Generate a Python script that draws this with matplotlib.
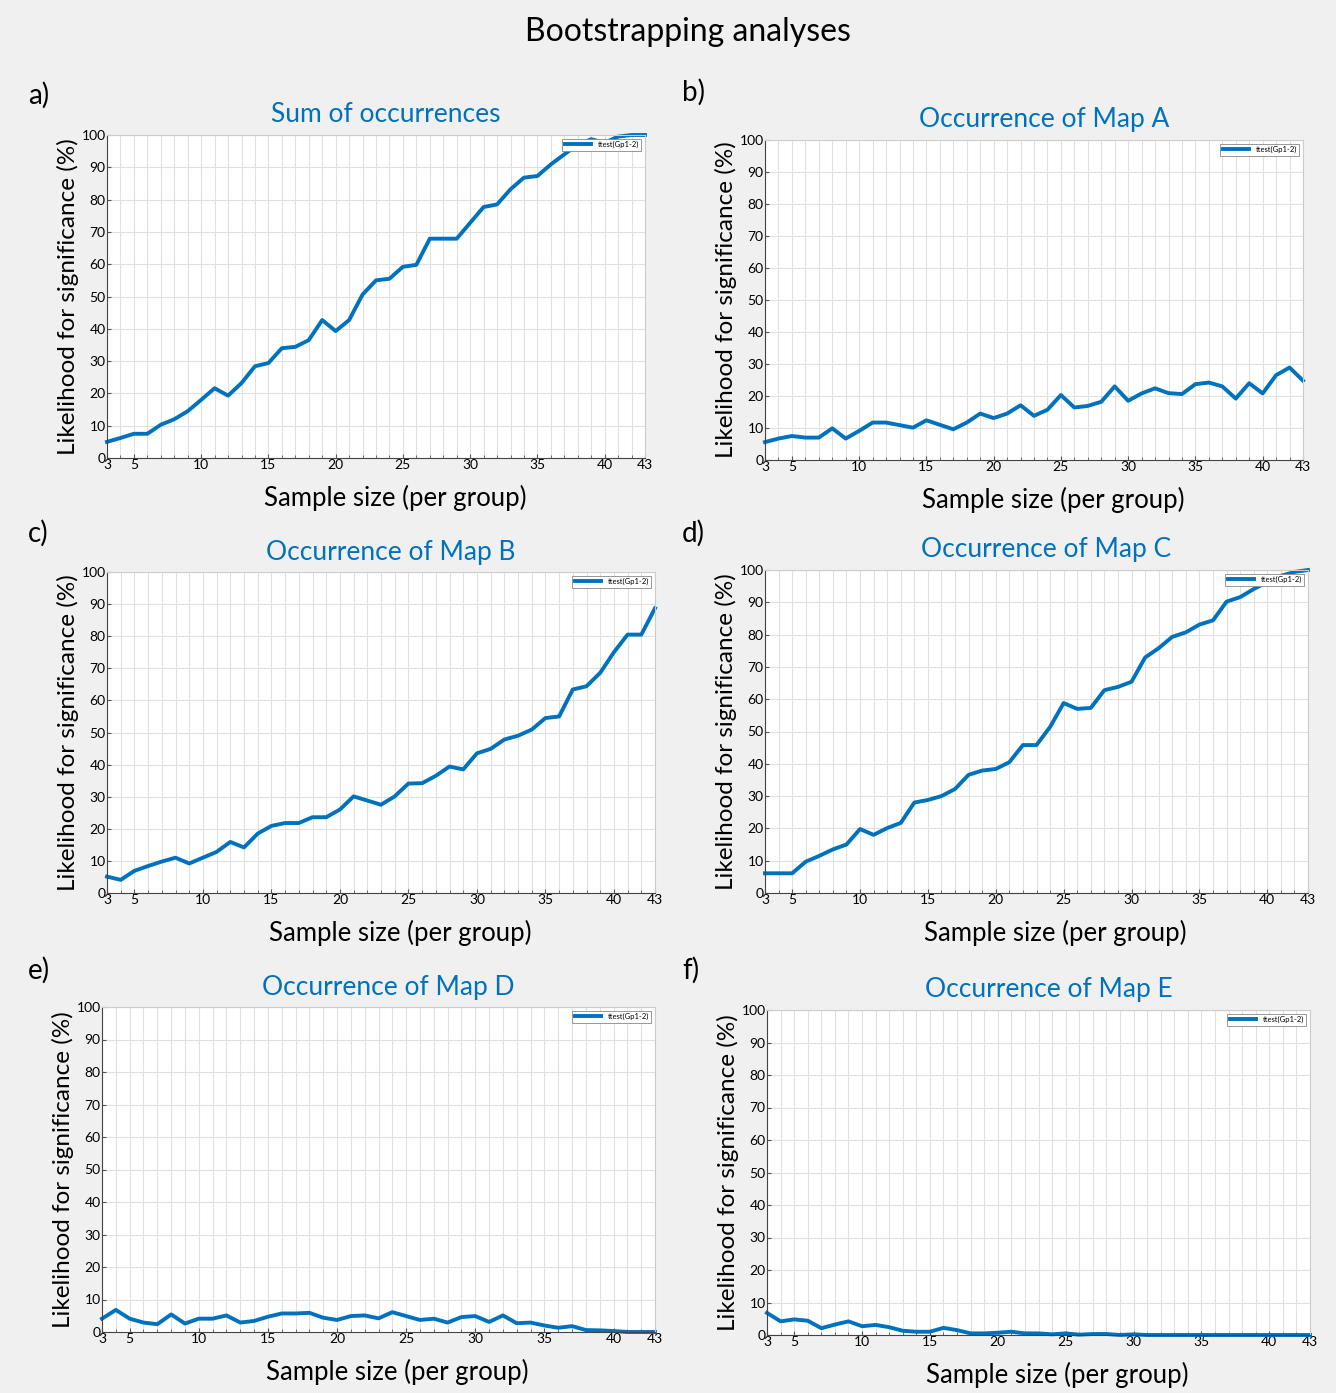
import matplotlib
matplotlib.use("Agg")
import matplotlib.pyplot as plt
import numpy as np

plt.rcParams['font.family'] = ['Lato', 'DejaVu Sans']

sample_size = list(range(3, 44))
x_ticks = [3, 5, 10, 15, 20, 25, 30, 35, 40, 43]
y_ticks = list(range(0, 101, 10))

sum_occ = [5, 6.2, 7.5, 7.5, 10.3, 12, 14.5, 18, 21.6, 19.3, 23.2, 28.4, 29.4, 34, 34.4,
           36.5, 42.7, 39.3, 42.7, 50.6, 55, 55.5, 59.2, 59.8, 67.9, 67.9, 67.9, 72.8,
           77.7, 78.5, 83.2, 86.8, 87.3, 90.9, 94, 97, 98.7, 97.6, 99.5, 100, 100]
map_a = [5.6, 6.7, 7.5, 7.0, 7.0, 9.9, 6.7, 9.1, 11.7, 11.7, 10.9, 10.1, 12.4, 11, 9.6,
         11.7, 14.5, 13.1, 14.5, 17.1, 13.8, 15.7, 20.3, 16.4, 16.9, 18.2, 23, 18.5,
         20.8, 22.4, 20.9, 20.6, 23.7, 24.2, 23, 19.2, 24, 20.8, 26.5, 28.9, 24.8]
map_b = [5.1, 4.1, 6.9, 8.4, 9.8, 11, 9.2, 11, 12.8, 15.9, 14.2, 18.5, 20.9, 21.8, 21.8,
         23.6, 23.6, 26, 30.1, 28.8, 27.5, 30.1, 34.1, 34.2, 36.5, 39.4, 38.5, 43.5,
         44.9, 47.8, 49, 50.9, 54.5, 55, 63.4, 64.4, 68.6, 75, 80.5, 80.5, 88.7]
map_c = [6.1, 6.1, 6.1, 9.7, 11.5, 13.5, 15, 19.8, 18, 20.1, 21.7, 28, 28.8, 30, 32.2,
         36.6, 37.9, 38.4, 40.5, 45.8, 45.8, 51.4, 58.8, 57, 57.3, 62.8, 63.8, 65.4,
         72.9, 75.8, 79.3, 80.7, 83.1, 84.4, 90.2, 91.6, 94.1, 96.3, 98.2, 99.4, 100]
map_d = [4.1, 6.8, 4.1, 2.9, 2.4, 5.4, 2.6, 4.1, 4.1, 5.1, 2.9, 3.4, 4.7, 5.7, 5.7,
         5.9, 4.4, 3.7, 4.9, 5.1, 4.2, 6.1, 4.9, 3.7, 4.1, 2.9, 4.6, 4.9, 3.1, 5.1,
         2.7, 2.9, 2.0, 1.3, 1.8, 0.6, 0.5, 0.3, 0, 0, 0]
map_e = [6.8, 4.2, 4.8, 4.4, 2.1, 3.2, 4.2, 2.7, 3.1, 2.4, 1.3, 1.0, 1.0, 2.2, 1.5,
         0.5, 0.5, 0.7, 1.0, 0.5, 0.5, 0.2, 0.5, 0.1, 0.3, 0.3, 0, 0.2, 0, 0, 0,
         0, 0, 0, 0, 0, 0, 0, 0, 0, 0]

titles = ['Sum of occurrences', 'Occurrence of Map A', 'Occurrence of Map B',
          'Occurrence of Map C', 'Occurrence of Map D', 'Occurrence of Map E']
letters = ['a)', 'b)', 'c)', 'd)', 'e)', 'f)']
series = [sum_occ, map_a, map_b, map_c, map_d, map_e]

W, H = 1336, 1393
# axes boxes in pixels: left, top, right, bottom
boxes = [(107, 135, 645, 458), (765, 140, 1303, 460),
         (107, 572, 655, 893), (765, 570, 1308, 893),
         (102, 1007, 655, 1332), (767, 1010, 1310, 1335)]
letter_pos = [(28, 95), (682, 92), (28, 533), (682, 533), (28, 970), (682, 970)]

blue = '#0072BD'
fig = plt.figure(figsize=(W / 100, H / 100), dpi=100, facecolor='#f0f0f0')
fig.text(0.515, 1 - 32 / H, 'Bootstrapping analyses', ha='center', va='center', fontsize=23)

for i in range(6):
    l, t, r, b = boxes[i]
    w, h = r - l, b - t
    ax = fig.add_axes([l / W, 1 - b / H, w / W, h / H])
    ax.set_facecolor('white')
    ax.plot(sample_size, series[i], color=blue, lw=2.8, label='ttest(Gp1-2)', clip_on=False)
    ax.set_xlim(3, 43)
    ax.set_ylim(0, 100)
    ax.set_xticks(x_ticks)
    ax.set_xticks(sample_size, minor=True)
    ax.set_yticks(y_ticks)
    ax.grid(True, which='major', color='#e0e0e0', lw=0.8)
    ax.grid(True, which='minor', axis='x', color='#e0e0e0', lw=0.8)
    ax.tick_params(which='both', direction='in', labelsize=10, pad=1, length=3,
                   color='#555555', top=False, right=False)
    ax.tick_params(which='minor', length=2)
    for s in ax.spines.values():
        s.set_color('#cccccc')
        s.set_linewidth(0.8)
    ax.spines['left'].set_color('#444444')
    ax.spines['bottom'].set_color('#444444')
    ax.text(0.5 + 10 / w, 1 + 20 / h, titles[i], color=blue, fontsize=19,
            ha='center', va='center', transform=ax.transAxes)
    ax.set_xlabel('Sample size (per group)', fontsize=18.5)
    ax.xaxis.set_label_coords(0.5 + 19 / w, -40 / h)
    ax.xaxis.label.set_va('center')
    ax.set_ylabel('Likelihood for significance (%)', fontsize=17.5, labelpad=2)
    leg = ax.legend(loc='upper right', fontsize=5.5, handlelength=3.5, borderpad=0.3,
                    fancybox=False, framealpha=1, edgecolor='#888888')
    leg.get_frame().set_linewidth(0.6)
    fig.text(letter_pos[i][0] / W, 1 - letter_pos[i][1] / H, letters[i],
             fontsize=20, va='center', ha='left')

fig.savefig('out.png', dpi=100, facecolor=fig.get_facecolor())
